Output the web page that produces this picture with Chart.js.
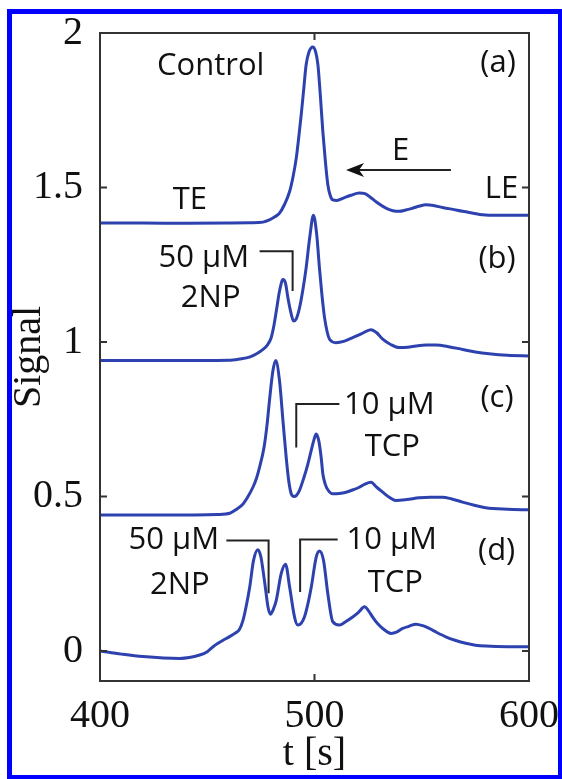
<!DOCTYPE html>
<html>
<head>
<meta charset="utf-8">
<script src="https://cdn.jsdelivr.net/npm/chart.js@4.4.1/dist/chart.umd.min.js"></script>
<style>
  html, body { margin: 0; padding: 0; background: #fff; }
  #frame {
    position: absolute; left: 7px; top: 9px; width: 556px; height: 771px;
    box-sizing: border-box; border: 5px solid #0000ff;
  }
  #grafico { position: absolute; left: 0; top: 0; }
</style>
</head>
<body>
<div id="frame"></div>
<canvas id="grafico" width="562" height="779"></canvas>
<script>
// (a) control
const timeA = [400, 420, 440, 460, 470, 476, 479, 481.5, 483.7, 486, 488.4, 490, 491.5, 492.7, 493.8, 495, 496.1, 497.5, 499.2, 500.5, 501.6, 502.8, 503.9, 505, 506.2, 507.3, 508.5, 510.5, 513.2, 517, 520.9, 523.5, 525.6, 529, 533.3, 536.5, 539.5, 542.5, 545.7, 549, 551.9, 555.5, 559.7, 564, 569, 574, 578.3, 585, 592, 600];
const signalA = [1.385, 1.385, 1.384, 1.385, 1.386, 1.388, 1.395, 1.405, 1.417, 1.445, 1.487, 1.535, 1.595, 1.665, 1.735, 1.82, 1.897, 1.94, 1.955, 1.94, 1.897, 1.79, 1.68, 1.59, 1.51, 1.475, 1.46, 1.458, 1.465, 1.475, 1.482, 1.48, 1.471, 1.452, 1.433, 1.425, 1.423, 1.427, 1.433, 1.44, 1.444, 1.442, 1.435, 1.43, 1.423, 1.417, 1.412, 1.41, 1.41, 1.41];

// (b) 50 uM 2NP
const timeB = [400, 430, 460, 465, 470, 473, 476, 478, 479.8, 481, 482.2, 483.7, 485.3, 486.5, 487.6, 489, 490.2, 491.5, 493, 494.6, 496.1, 497.8, 499.5, 501, 502.3, 503.5, 504.7, 506, 507, 510, 514, 517.8, 522, 526.3, 529, 531.8, 535.5, 539.5, 543.5, 547.3, 552, 556.6, 562.5, 569, 575, 581.4, 590, 600];
const signalB = [0.94, 0.94, 0.941, 0.945, 0.952, 0.962, 0.976, 0.99, 1.014, 1.05, 1.10, 1.165, 1.202, 1.19, 1.143, 1.095, 1.068, 1.075, 1.11, 1.17, 1.24, 1.34, 1.41, 1.35, 1.24, 1.15, 1.078, 1.03, 1.009, 0.998, 1.003, 1.014, 1.027, 1.04, 1.03, 1.009, 0.992, 0.982, 0.983, 0.987, 0.99, 0.99, 0.985, 0.976, 0.968, 0.962, 0.957, 0.955];

// (c) 10 uM TCP
const timeC = [400, 430, 455, 460.5, 463.5, 466.7, 469, 471.3, 473, 474.4, 476.5, 478, 479, 480.6, 481.9, 483.7, 485.3, 486.8, 488, 489.1, 490.5, 491.5, 493, 495, 496.9, 498.5, 499.8, 500.8, 502, 503.1, 503.9, 505, 506.2, 508.5, 511.5, 514.7, 518, 520.9, 523.5, 526.3, 529, 531.8, 535, 538, 543, 548.8, 554, 559.7, 564, 569, 574.5, 579.8, 590, 600];
const signalC = [0.44, 0.44, 0.442, 0.446, 0.458, 0.476, 0.50, 0.53, 0.56, 0.595, 0.66, 0.74, 0.81, 0.906, 0.94, 0.874, 0.745, 0.627, 0.55, 0.51, 0.50, 0.503, 0.52, 0.56, 0.605, 0.65, 0.685, 0.702, 0.68, 0.627, 0.573, 0.54, 0.522, 0.509, 0.51, 0.514, 0.522, 0.53, 0.54, 0.546, 0.53, 0.514, 0.497, 0.487, 0.49, 0.496, 0.498, 0.498, 0.492, 0.482, 0.472, 0.464, 0.459, 0.457];

// (d) both
const timeD = [400, 410, 420, 437.2, 446.5, 450, 452.7, 455, 457.4, 460, 462.8, 465, 466.7, 468.3, 469.8, 471.6, 473.6, 475, 476, 477.2, 478.3, 479.4, 480.8, 482.2, 484.5, 486.5, 488.4, 490.7, 492.2, 493.8, 495.3, 497, 498.5, 500.8, 502.3, 504.2, 506.2, 508.5, 511.6, 514.5, 517.8, 520.5, 523.3, 525.2, 527.1, 529.5, 531.8, 535.7, 538.5, 541.1, 544, 547.3, 550.5, 553.5, 557, 561.2, 565.5, 570.5, 575, 579.8, 590, 600];
const signalD = [0.0, -0.01, -0.018, -0.024, -0.013, -0.002, 0.014, 0.025, 0.035, 0.045, 0.057, 0.07, 0.10, 0.15, 0.207, 0.294, 0.328, 0.305, 0.261, 0.20, 0.143, 0.119, 0.135, 0.165, 0.251, 0.281, 0.207, 0.11, 0.084, 0.09, 0.11, 0.155, 0.207, 0.304, 0.324, 0.294, 0.186, 0.095, 0.084, 0.095, 0.11, 0.125, 0.143, 0.13, 0.11, 0.088, 0.073, 0.057, 0.062, 0.073, 0.08, 0.087, 0.082, 0.073, 0.06, 0.046, 0.035, 0.025, 0.019, 0.016, 0.014, 0.014];

const xTickValues = [400, 500, 600];
const yTickValues = [0, 0.5, 1, 1.5, 2];

// texts inside the axes, in data units (t, signal)
const notes = [
  { text: "Control", t: 451.6, v: 1.892 },
  { text: "(a)", t: 585.6, v: 1.903 },
  { text: "E", t: 540.2, v: 1.619 },
  { text: "LE", t: 587.2, v: 1.495 },
  { text: "TE", t: 441.9, v: 1.458 },
  { text: "(b)", t: 585.1, v: 1.268 },
  { text: "50 μM", t: 448.4, v: 1.271 },
  { text: "2NP", t: 451.6, v: 1.142 },
  { text: "(c)", t: 585.1, v: 0.819 },
  { text: "10 μM", t: 534.9, v: 0.797 },
  { text: "TCP", t: 536.3, v: 0.661 },
  { text: "(d)", t: 584.9, v: 0.323 },
  { text: "10 μM", t: 536, v: 0.358 },
  { text: "TCP", t: 537.7, v: 0.219 },
  { text: "50 μM", t: 434.4, v: 0.358 },
  { text: "2NP", t: 437.2, v: 0.213 },
];
const brackets = [
  [[474.4, 1.294], [489.8, 1.294], [489.8, 1.165]],
  [[511.6, 0.799], [491.5, 0.799], [491.5, 0.659]],
  [[510.8, 0.361], [493.3, 0.361], [493.3, 0.191]],
  [[458.9, 0.358], [478.6, 0.358], [478.6, 0.187]],
];
const arrowE = [[563.6, 1.557], [514.7, 1.557]];

const lineBlue = "#2d42ae";

function serie(ts, vs) {
  return ts.map((t, i) => ({ x: t, y: vs[i] }));
}

function traceSet(ts, vs) {
  return {
    data: serie(ts, vs),
    borderColor: lineBlue,
    borderWidth: 3,
    pointRadius: 0,
    cubicInterpolationMode: "monotone",
    fill: false,
  };
}

// moldura, ticks para dentro e anotações
const extras = {
  id: "extras",
  afterDraw(chart) {
    const { ctx, chartArea: a } = chart;
    const xs = chart.scales.x;
    const ys = chart.scales.y;
    const tick = 7;
    ctx.save();
    ctx.strokeStyle = "#333";
    ctx.lineWidth = 2;
    ctx.strokeRect(a.left, a.top, a.right - a.left, a.bottom - a.top);
    ctx.beginPath();
    yTickValues.forEach((v) => {
      const py = ys.getPixelForValue(v);
      ctx.moveTo(a.left, py);
      ctx.lineTo(a.left + tick, py);
      ctx.moveTo(a.right, py);
      ctx.lineTo(a.right - tick, py);
    });
    xTickValues.forEach((t) => {
      const px = xs.getPixelForValue(t);
      ctx.moveTo(px, a.bottom);
      ctx.lineTo(px, a.bottom - tick);
      ctx.moveTo(px, a.top);
      ctx.lineTo(px, a.top + tick);
    });
    ctx.stroke();

    ctx.strokeStyle = "#222";
    ctx.lineWidth = 2;
    brackets.forEach((b) => {
      ctx.beginPath();
      b.forEach((p, i) => {
        const px = xs.getPixelForValue(p[0]);
        const py = ys.getPixelForValue(p[1]);
        if (i === 0) ctx.moveTo(px, py);
        else ctx.lineTo(px, py);
      });
      ctx.stroke();
    });

    // seta E
    const x0 = xs.getPixelForValue(arrowE[0][0]);
    const x1 = xs.getPixelForValue(arrowE[1][0]);
    const ay = ys.getPixelForValue(arrowE[0][1]);
    ctx.beginPath();
    ctx.moveTo(x0, ay);
    ctx.lineTo(x1 + 8, ay);
    ctx.stroke();
    ctx.fillStyle = "#111";
    ctx.beginPath();
    ctx.moveTo(x1, ay);
    ctx.lineTo(x1 + 18, ay - 7);
    ctx.lineTo(x1 + 13, ay);
    ctx.lineTo(x1 + 18, ay + 7);
    ctx.closePath();
    ctx.fill();

    ctx.font = "31px 'Open Sans'";
    ctx.textAlign = "center";
    ctx.textBaseline = "middle";
    notes.forEach((n) => {
      ctx.fillText(n.text, xs.getPixelForValue(n.t), ys.getPixelForValue(n.v));
    });
    ctx.restore();
  },
};

const ctx = document.getElementById("grafico");

new Chart(ctx, {
  type: "line",
  data: {
    datasets: [
      traceSet(timeA, signalA),
      traceSet(timeB, signalB),
      traceSet(timeC, signalC),
      traceSet(timeD, signalD),
    ],
  },
  options: {
    responsive: false,
    animation: false,
    devicePixelRatio: 1,
    layout: { padding: { left: 0, right: 32, top: 31, bottom: 0 } },
    plugins: {
      legend: { display: false },
      tooltip: { enabled: false },
    },
    scales: {
      x: {
        type: "linear",
        min: 400,
        max: 600,
        grid: { display: false },
        border: { display: false },
        afterBuildTicks: (scale) => {
          scale.ticks = xTickValues.map((v) => ({ value: v }));
        },
        afterFit: (scale) => {
          scale.height = 98;
        },
        ticks: {
          autoSkip: false,
          maxRotation: 0,
          padding: 3,
          color: "#111",
          font: { family: "'Liberation Serif'", size: 40 },
          callback: (value) => String(value),
        },
        title: {
          display: true,
          text: "t [s]",
          color: "#111",
          font: { family: "'Liberation Serif'", size: 40 },
          padding: { top: 0, bottom: 1 },
        },
      },
      y: {
        min: -0.097,
        max: 2,
        grid: { display: false },
        border: { display: false },
        afterBuildTicks: (scale) => {
          scale.ticks = yTickValues.map((v) => ({ value: v }));
        },
        afterFit: (scale) => {
          scale.width = 100;
        },
        ticks: {
          autoSkip: false,
          padding: 9,
          color: "#111",
          font: { family: "'Liberation Serif'", size: 40 },
          callback: (value) => String(value),
        },
        title: {
          display: true,
          text: "Signal",
          color: "#111",
          font: { family: "'Liberation Serif'", size: 40 },
          padding: { top: 5, bottom: 0 },
        },
      },
    },
  },
  plugins: [extras],
});
</script>
</body>
</html>
